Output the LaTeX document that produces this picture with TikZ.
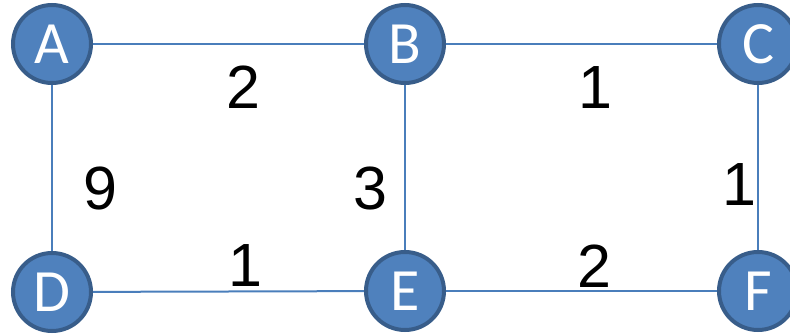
\documentclass[tikz,border=0pt]{standalone}
\usepackage{fontspec}
\setmainfont{Liberation Sans}
\newfontfamily\nodefont{Carlito}
\usetikzlibrary{backgrounds}
\definecolor{nodefill}{HTML}{4F81BD}
\definecolor{nodeborder}{HTML}{385D8A}
\definecolor{edgecol}{HTML}{4A7EBB}
\tikzset{
  vertex/.style={circle, fill=nodefill, draw=nodeborder, line width=4pt,
    minimum size=78pt, inner sep=0pt, text=white,
    font=\nodefont\fontsize{60}{60}\selectfont},
  edge/.style={draw=edgecol, line width=2pt},
  weight/.style={anchor=base, inner sep=0pt, text=black,
    font=\fontsize{61}{61}\selectfont}
}
\begin{document}
\begin{tikzpicture}[x=1pt,y=-1pt]
\useasboundingbox (0,0) rectangle (790,334);
\node[vertex] (A) at (52,44) {A};
\node[vertex] (B) at (405,44) {B};
\node[vertex] (C) at (758,44) {C};
\node[vertex] (D) at (52,292) {D};
\node[vertex] (E) at (405,291) {E};
\node[vertex] (F) at (758,291) {F};
\begin{scope}[on background layer]
\draw[edge] (A) -- (B);
\draw[edge] (B) -- (C);
\draw[edge] (A) -- (D);
\draw[edge] (B) -- (E);
\draw[edge] (C) -- (F);
\draw[edge] (D) -- (E);
\draw[edge] (E) -- (F);
\end{scope}
\node[weight] (wAB) at (243,109) {2};
\node[weight] (wBC) at (595,109) {1};
\node[weight] (wAD) at (100,209) {9};
\node[weight] (wBE) at (370,209) {3};
\node[weight] (wCF) at (739,205) {1};
\node[weight] (wDE) at (245,286) {1};
\node[weight] (wEF) at (594,287) {2};
\end{tikzpicture}
\end{document}
